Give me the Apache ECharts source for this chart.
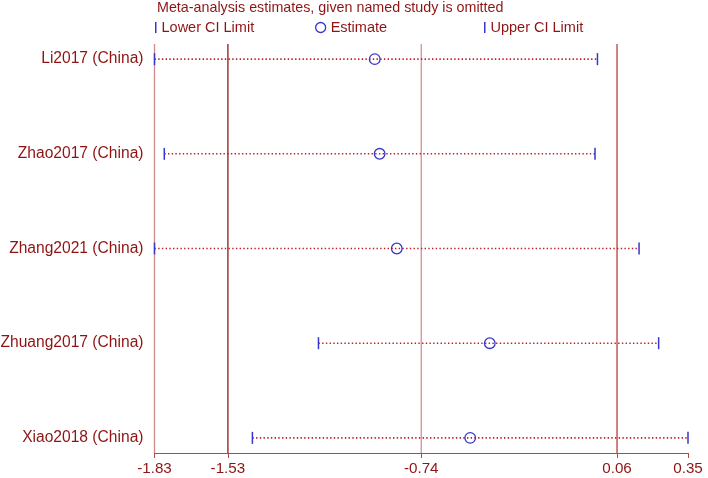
<!DOCTYPE html>
<html>
<head>
<meta charset="utf-8">
<script src="https://cdn.jsdelivr.net/npm/echarts@6/dist/echarts.min.js"></script>
<style>
  html, body { margin: 0; padding: 0; background: #fff; }
  #main { width: 708px; height: 478px; }
</style>
</head>
<body>
<div id="main"></div>
<script>
// 研究名称 (从上到下)
var studies = ['Li2017 (China)', 'Zhao2017 (China)', 'Zhang2021 (China)', 'Zhuang2017 (China)', 'Xiao2018 (China)'];
// 剔除该研究后的合并估计值及置信区间
var lower = [-1.83, -1.79, -1.83, -1.16, -1.43];
var estimate = [-0.93, -0.91, -0.84, -0.46, -0.54];
var upper = [-0.02, -0.03, 0.15, 0.23, 0.35];
// 竖直参考线 和 x轴刻度
var refLines = [-1.83, -1.53, -0.74, 0.06];
var xTicks = [-1.83, -1.53, -0.74, 0.06, 0.35];

var darkRed = '#8e1414';
var blue = '#3636cc';
var font = '"Liberation Sans", Arial, sans-serif';

var chart = echarts.init(document.getElementById('main'));

function tickItem(params, api) {
    var p = api.coord([api.value(0), api.value(1)]);
    return {
        type: 'line',
        shape: { x1: p[0], y1: p[1] - 6, x2: p[0], y2: p[1] + 6 },
        style: { stroke: blue, lineWidth: 1.5 }
    };
}

var option = {
    animation: false,
    title: {
        text: 'Meta-analysis estimates, given named study is omitted',
        left: 157, top: 1, padding: 0,
        textStyle: { fontFamily: font, fontSize: 14.3, fontWeight: 'normal', color: darkRed }
    },
    legend: [
        {
            left: 155, top: 20, padding: 0, itemWidth: 1.5, itemHeight: 11,
            textStyle: { fontFamily: font, fontSize: 14.5, color: darkRed },
            data: [{ name: 'Lower CI Limit', icon: 'rect', itemStyle: { color: blue } }]
        },
        {
            left: 315, top: 20, padding: 0, itemWidth: 10, itemHeight: 10,
            textStyle: { fontFamily: font, fontSize: 14.5, color: darkRed },
            data: [{ name: 'Estimate', icon: 'circle',
                itemStyle: { color: 'rgba(0,0,0,0)', borderColor: blue, borderWidth: 1.3 } }]
        },
        {
            left: 484, top: 20, padding: 0, itemWidth: 1.5, itemHeight: 11,
            textStyle: { fontFamily: font, fontSize: 14.5, color: darkRed },
            data: [{ name: 'Upper CI Limit', icon: 'rect', itemStyle: { color: blue } }]
        }
    ],
    grid: { left: 154.5, right: 20, top: 44, bottom: 25 },
    xAxis: {
        type: 'value',
        min: -1.83, max: 0.35,
        splitLine: { show: false },
        axisLine: { show: true, onZero: false, lineStyle: { color: '#b54646', width: 1 } },
        axisTick: { show: true, length: 5, customValues: xTicks, lineStyle: { color: '#b54646' } },
        axisLabel: {
            customValues: xTicks, margin: 8,
            fontFamily: font, fontSize: 15.2, color: darkRed,
            formatter: function (v) { return v.toFixed(2); }
        }
    },
    yAxis: {
        type: 'value',
        inverse: true,
        min: -0.16, max: 4.16,
        axisLine: { show: false },
        axisTick: { show: false },
        axisLabel: { show: false },
        splitLine: { show: false }
    },
    series: [
        // 竖直参考线
        {
            type: 'custom',
            silent: true,
            data: refLines.map(function (v, i) { return [v, i]; }),
            encode: { x: 0 },
            renderItem: function (params, api) {
                var x = api.value(0);
                var top = api.coord([x, -0.16]);
                var bot = api.coord([x, 4.16]);
                var colors = ['#cf8a8a', '#8b1a1a', '#d39191', '#c03a3a'];
                return {
                    type: 'line',
                    shape: { x1: top[0], y1: top[1], x2: bot[0], y2: bot[1] },
                    style: { stroke: colors[api.value(1)], lineWidth: 1.3 }
                };
            },
            z: 1
        },
        // 置信区间点线
        {
            type: 'custom',
            silent: true,
            data: studies.map(function (s, i) { return [i, lower[i], upper[i]]; }),
            encode: { x: [1, 2], y: 0 },
            renderItem: function (params, api) {
                var a = api.coord([api.value(1), api.value(0)]);
                var b = api.coord([api.value(2), api.value(0)]);
                return {
                    type: 'line',
                    shape: { x1: a[0], y1: a[1], x2: b[0], y2: b[1] },
                    style: { stroke: '#bf1f26', lineWidth: 1.6, lineDash: [1.4, 2.3] }
                };
            },
            z: 2
        },
        // 研究名称标签
        {
            type: 'custom',
            silent: true,
            data: studies.map(function (s, i) { return [i]; }),
            encode: { y: 0 },
            renderItem: function (params, api) {
                var i = api.value(0);
                var p = api.coord([-1.83, i]);
                return {
                    type: 'text',
                    x: p[0] - 11, y: p[1],
                    style: {
                        text: studies[i], textAlign: 'right', textVerticalAlign: 'middle',
                        fontFamily: font, fontSize: 15.6, fill: darkRed
                    }
                };
            }
        },
        {
            name: 'Lower CI Limit',
            type: 'custom',
            color: blue,
            data: lower.map(function (v, i) { return [v, i]; }),
            encode: { x: 0, y: 1 },
            renderItem: tickItem,
            z: 3
        },
        {
            name: 'Estimate',
            type: 'custom',
            color: blue,
            data: estimate.map(function (v, i) { return [v, i]; }),
            encode: { x: 0, y: 1 },
            renderItem: function (params, api) {
                var p = api.coord([api.value(0), api.value(1)]);
                return {
                    type: 'circle',
                    shape: { cx: p[0], cy: p[1], r: 5.3 },
                    style: { fill: 'none', stroke: blue, lineWidth: 1.3 }
                };
            },
            z: 3
        },
        {
            name: 'Upper CI Limit',
            type: 'custom',
            color: blue,
            data: upper.map(function (v, i) { return [v, i]; }),
            encode: { x: 0, y: 1 },
            renderItem: tickItem,
            z: 3
        }
    ]
};

chart.setOption(option);
</script>
</body>
</html>
